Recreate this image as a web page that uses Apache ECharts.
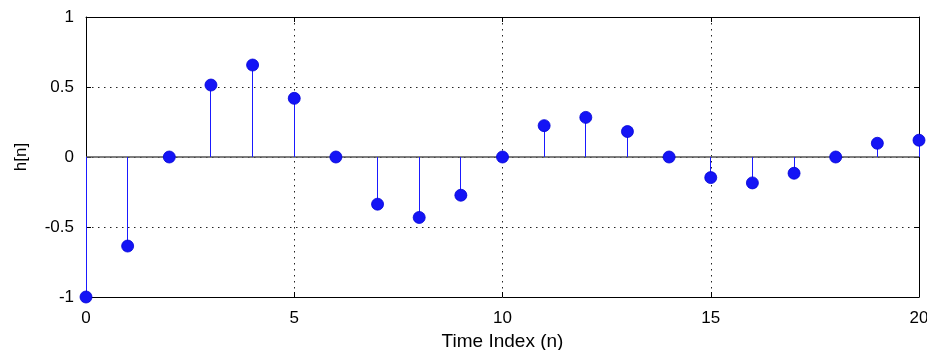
<!DOCTYPE html>
<html>
<head>
<meta charset="utf-8">
<script src="https://cdn.jsdelivr.net/npm/echarts@6/dist/echarts.min.js"></script>
<style>
  html, body { margin: 0; padding: 0; background: #fff; }
  #chart { width: 927px; height: 350px; }
</style>
</head>
<body>
<div id="chart"></div>
<script>
// Impulse response samples h[n], n = 0..20
const sampleIndex = [0, 1, 2, 3, 4, 5, 6, 7, 8, 9, 10, 11, 12, 13, 14, 15, 16, 17, 18, 19, 20];
const responseValues = [-1, -0.636, 0, 0.514, 0.657, 0.419, 0, -0.337, -0.432, -0.273, 0,
                        0.224, 0.283, 0.182, 0, -0.147, -0.185, -0.116, 0, 0.098, 0.12];
const xTicks = { min: 0, max: 20, step: 5 };
const yTicks = { min: -1, max: 1, step: 0.5 };
const xTitle = 'Time Index (n)';
const yTitle = 'h[n]';

const points = sampleIndex.map((n, i) => [n, responseValues[i]]);

const font = 'Liberation Sans, Arial, sans-serif';
const gridDots = { color: '#222', width: 1, type: [1.5, 4.5] };
const frame = { show: true, lineStyle: { color: '#000', width: 1 } };
const innerTick = { show: true, inside: true, length: 5, lineStyle: { color: '#000' } };

// snap a 1px vertical stroke onto a pixel column so it renders crisp
const crisp = v => Math.round(v - 0.5) + 0.5;

const chart = echarts.init(document.getElementById('chart'), null, { renderer: 'canvas' });
chart.setOption({
  animation: false,
  backgroundColor: '#fff',
  grid: { left: 86, right: 8, top: 17, bottom: 53, outerBoundsMode: 'none', containLabel: false },
  xAxis: [
    {
      type: 'value', position: 'bottom',
      min: xTicks.min, max: xTicks.max, interval: xTicks.step,
      axisLine: Object.assign({ onZero: false }, frame),
      axisTick: innerTick,
      axisLabel: { color: '#000', fontSize: 17, fontFamily: font, margin: 13, hideOverlap: false },
      splitLine: { show: true, lineStyle: gridDots },
      name: xTitle, nameLocation: 'middle', nameGap: 33,
      nameTextStyle: { color: '#000', fontSize: 19, fontFamily: font }
    },
    {
      type: 'value', position: 'top',
      min: xTicks.min, max: xTicks.max, interval: xTicks.step,
      axisLine: Object.assign({ onZero: false }, frame),
      axisTick: innerTick,
      axisLabel: { show: false },
      splitLine: { show: false }
    }
  ],
  yAxis: [
    {
      type: 'value', position: 'left',
      min: yTicks.min, max: yTicks.max, interval: yTicks.step,
      axisLine: Object.assign({ onZero: false }, frame),
      axisTick: innerTick,
      axisLabel: { color: '#000', fontSize: 17, fontFamily: font, margin: 12 },
      splitLine: { show: true, lineStyle: gridDots },
      name: yTitle, nameLocation: 'middle', nameGap: 56, nameRotate: 90,
      nameTextStyle: { color: '#000', fontSize: 17, fontFamily: font }
    },
    {
      type: 'value', position: 'right',
      min: yTicks.min, max: yTicks.max, interval: yTicks.step,
      axisLine: Object.assign({ onZero: false }, frame),
      axisTick: innerTick,
      axisLabel: { show: false },
      splitLine: { show: false }
    }
  ],
  series: [
    {
      // zero baseline
      type: 'custom',
      silent: true,
      data: [[xTicks.min, xTicks.max]],
      renderItem: function (params, api) {
        const a = api.coord([api.value(0), 0]);
        const b = api.coord([api.value(1), 0]);
        return {
          type: 'line',
          shape: { x1: a[0], y1: a[1], x2: b[0], y2: b[1] },
          style: { stroke: '#555', lineWidth: 1.5 }
        };
      },
      z: 2
    },
    {
      // stems from the baseline to each sample
      type: 'custom',
      silent: true,
      data: points,
      renderItem: function (params, api) {
        const top = api.coord([api.value(0), api.value(1)]);
        const base = api.coord([api.value(0), 0]);
        const x = crisp(top[0]);
        return {
          type: 'line',
          shape: { x1: x, y1: top[1], x2: x, y2: base[1] },
          style: { stroke: '#1a1aff', lineWidth: 1 }
        };
      },
      z: 3
    },
    {
      // sample markers
      type: 'scatter',
      data: points,
      symbol: 'circle',
      symbolSize: 12,
      itemStyle: { color: '#1414f5', borderColor: '#0000d8', borderWidth: 0.8, opacity: 1 },
      z: 4
    }
  ]
});
</script>
</body>
</html>
